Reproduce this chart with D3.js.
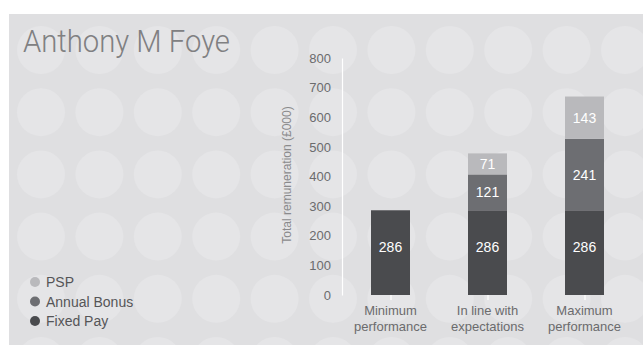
<!DOCTYPE html>
<html>
<head>
<meta charset="utf-8">
<script src="https://cdn.jsdelivr.net/npm/d3@7"></script>
<style>
  html, body { margin: 0; padding: 0; background: #fff; }
  svg { display: block; }
  text { font-family: "Liberation Sans", Arial, sans-serif; }
</style>
</head>
<body>
<svg id="chart" width="643" height="345"></svg>
<script>
// data
var categories = [["Minimum", "performance"], ["In line with", "expectations"], ["Maximum", "performance"]];
var fixedPay = [286, 286, 286];
var annualBonus = [0, 121, 241];
var psp = [0, 71, 143];
var yTicks = [0, 100, 200, 300, 400, 500, 600, 700, 800];
var seriesNames = ["Fixed Pay", "Annual Bonus", "PSP"];
var seriesColors = ["#4a4b4e", "#6d6e72", "#b9b9bc"];
var legendOrder = ["PSP", "Annual Bonus", "Fixed Pay"];

var svg = d3.select("#chart");
var W = 643, H = 345;

// backdrop
svg.append("rect")
  .attr("x", 9).attr("y", 14)
  .attr("width", W - 9).attr("height", H - 14)
  .attr("fill", "#dfdfe1");

var dots = svg.append("g");
d3.range(11).forEach(function(i){
  d3.range(6).forEach(function(j){
    dots.append("circle")
      .attr("cx", 41 + i * 58.4)
      .attr("cy", 50 + j * 62.2)
      .attr("r", 24)
      .attr("fill", "#e5e5e7");
  });
});

// title
svg.append("text")
  .attr("x", 23).attr("y", 52)
  .attr("font-weight", 300)
  .attr("font-size", 31)
  .attr("fill", "#808082")
  .attr("textLength", 207)
  .attr("lengthAdjust", "spacingAndGlyphs")
  .style("font-family", "Roboto, 'Liberation Sans', sans-serif")
  .text("Anthony M Foye");

var x = d3.scalePoint()
  .domain(d3.range(categories.length))
  .range([342, 633])
  .padding(0.5);

var y = d3.scaleLinear()
  .domain([0, 800])
  .range([295, 58]);

var barW = 39;

// stacked data
var rows = categories.map(function(c, i){
  return { i: i, "Fixed Pay": fixedPay[i], "Annual Bonus": annualBonus[i], "PSP": psp[i] };
});
var stack = d3.stack().keys(seriesNames)(rows);

var layers = svg.append("g").selectAll("g")
  .data(stack)
  .enter().append("g")
  .attr("fill", function(d, k){ return seriesColors[k]; });

layers.selectAll("rect")
  .data(function(d){ return d.filter(function(p){ return p[1] > p[0]; }); })
  .enter().append("rect")
  .attr("x", function(p){ return x(p.data.i) - barW / 2; })
  .attr("y", function(p){ return y(p[1]); })
  .attr("width", barW)
  .attr("height", function(p){ return y(p[0]) - y(p[1]); });

layers.selectAll("text")
  .data(function(d){ return d.filter(function(p){ return p[1] > p[0]; }); })
  .enter().append("text")
  .attr("x", function(p){ return x(p.data.i); })
  .attr("y", function(p){ return (y(p[0]) + y(p[1])) / 2 - (p[0] === 0 ? 6 : 0); })
  .attr("dy", "0.36em")
  .attr("text-anchor", "middle")
  .attr("font-size", 14)
  .attr("fill", "#ffffff")
  .text(function(p){ return p[1] - p[0]; });

// y axis
var gY = svg.append("g")
  .attr("transform", "translate(342,0)")
  .call(d3.axisLeft(y).tickValues(yTicks).tickSize(0).tickPadding(11));
gY.select(".domain").attr("stroke", "#ffffff").attr("stroke-width", 1.2);
gY.selectAll("text")
  .attr("font-size", 13)
  .attr("fill", "#6b6b6d")
  .style("font-family", "'Liberation Sans', Arial, sans-serif");

svg.append("text")
  .attr("transform", "translate(291,175) rotate(-90)")
  .attr("text-anchor", "middle")
  .attr("font-size", 12)
  .attr("fill", "#8a8a8c")
  .text("Total remuneration (£000)");

// x axis
var gX = svg.append("g")
  .attr("transform", "translate(0,295)")
  .call(d3.axisBottom(x).tickSize(5).tickFormat(""));
gX.select(".domain").remove();
gX.selectAll("line").attr("stroke", "#ffffff").attr("stroke-width", 1.2);

var cat = svg.append("g").selectAll("text")
  .data(categories)
  .enter().append("text")
  .attr("text-anchor", "middle")
  .attr("font-size", 13)
  .attr("fill", "#6b6b6d");
cat.each(function(lines, i){
  var t = d3.select(this);
  lines.forEach(function(s, k){
    t.append("tspan")
      .attr("x", x(i))
      .attr("y", 315 + k * 16)
      .text(s);
  });
});

// legend
var lg = svg.append("g").selectAll("g")
  .data(legendOrder)
  .enter().append("g")
  .attr("transform", function(d, k){ return "translate(35," + (282 + k * 19.5) + ")"; });
lg.append("circle")
  .attr("r", 5)
  .attr("fill", function(d){ return seriesColors[seriesNames.indexOf(d)]; });
lg.append("text")
  .attr("x", 11)
  .attr("dy", "0.36em")
  .attr("font-size", 14)
  .attr("fill", "#555557")
  .text(function(d){ return d; });
</script>
</body>
</html>
